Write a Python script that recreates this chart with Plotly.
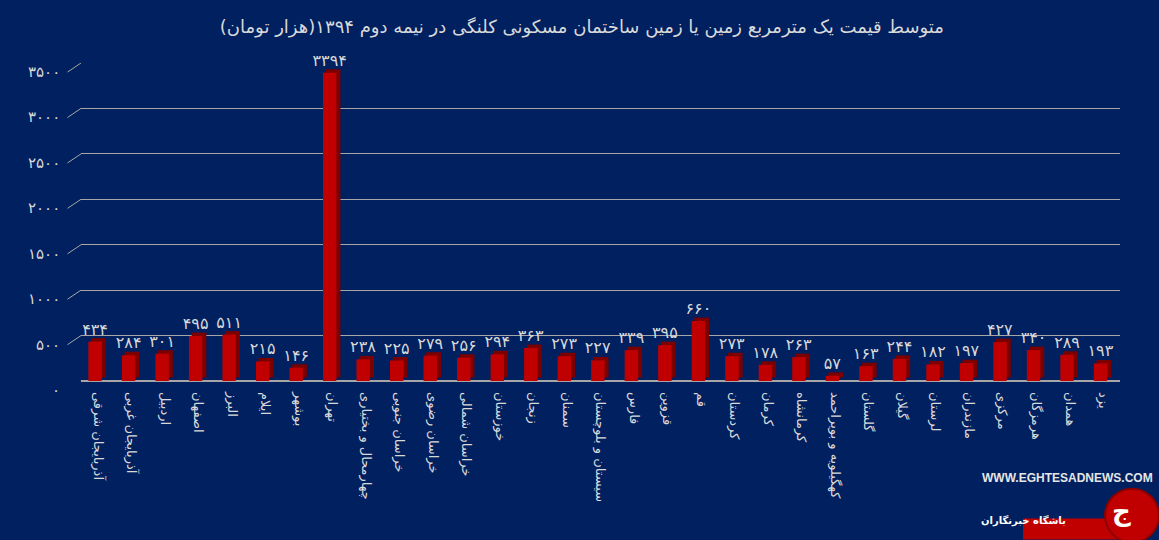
import plotly.graph_objects as go

provinces = ["آذربایجان شرقی", "آذربایجان غربی", "اردبیل", "اصفهان", "البرز", "ایلام", "بوشهر",
             "تهران", "چهارمحال و بختیاری", "خراسان جنوبی", "خراسان رضوی", "خراسان شمالی",
             "خوزستان", "زنجان", "سمنان", "سیستان و بلوچستان", "فارس", "قزوین", "قم",
             "کردستان", "کرمان", "کرمانشاه", "کهگیلویه و بویراحمد", "گلستان", "گیلان",
             "لرستان", "مازندران", "مرکزی", "هرمزگان", "همدان", "یزد"]
prices = [434, 284, 301, 495, 511, 215, 146, 3394, 238, 225, 279, 256, 294, 363, 273, 227,
          339, 395, 660, 273, 178, 263, 57, 163, 244, 182, 197, 427, 340, 289, 193]
y_ticks = [0, 500, 1000, 1500, 2000, 2500, 3000, 3500]

FA = str.maketrans("0123456789", "۰۱۲۳۴۵۶۷۸۹")
def fa(n):
    return str(n).translate(FA)

BG = "#002060"
TXT = "#d9d9d9"
FONT = "DejaVu Sans"
depth = 38  # 3D extrusion in value units (style)

def px(x):
    return (x - 81) / 1039

def py(y):
    return (381 - y) / 319

fig = go.Figure()
# darker extrusion (side/top faces)
fig.add_trace(go.Bar(x=provinces, y=prices, base=[depth] * len(prices), width=0.44, offset=-0.2,
                     marker=dict(color="#7d0000", line=dict(width=0)), hoverinfo="skip",
                     showlegend=False))
# front faces
fig.add_trace(go.Bar(x=provinces, y=prices, width=0.4, offset=-0.28,
                     marker=dict(color="#c00000", line=dict(width=0)),
                     text=[fa(v) for v in prices], textposition="outside", constraintext="none",
                     textfont=dict(color=TXT, size=16, family=FONT), cliponaxis=False,
                     showlegend=False))

shapes = []
for t in y_ticks:
    shapes.append(dict(type="line", xref="paper", yref="y", x0=-0.013, x1=0.0, y0=t - 100, y1=t,
                       line=dict(color="#a6a6a6", width=1)))
shapes.append(dict(type="rect", xref="paper", yref="paper", x0=px(1023), x1=px(1130),
                   y0=py(540), y1=py(519), line=dict(width=0), fillcolor="#c00000"))
shapes.append(dict(type="circle", xref="paper", yref="paper", x0=px(1105), x1=px(1159),
                   y0=py(543), y1=py(489), line=dict(color="#8a0000", width=2),
                   fillcolor="#c00000"))

annotations = [dict(text=fa(t), xref="paper", yref="y", x=0, y=t, xanchor="right",
                    yanchor="middle", xshift=-19, yshift=-9, showarrow=False,
                    font=dict(color=TXT, size=15, family=FONT)) for t in y_ticks]

fig.update_layout(
    width=1159, height=540,
    margin=dict(l=81, r=39, t=63, b=159),
    paper_bgcolor=BG, plot_bgcolor=BG,
    barmode="overlay",
    shapes=shapes,
    annotations=annotations,
    title=dict(text="متوسط قیمت یک مترمربع زمین یا زمین ساختمان مسکونی کلنگی در نیمه دوم ۱۳۹۴(هزار تومان)",
               x=0.502, xref="container", y=0.95, yref="container", xanchor="center", yanchor="middle",
               font=dict(color=TXT, size=18, family=FONT)),
    xaxis=dict(tickangle=90, tickfont=dict(color=TXT, size=13, family=FONT), showgrid=False,
               showline=False, ticks="", ticklabelstandoff=10, range=[-0.5, len(provinces) - 0.5]),
    yaxis=dict(range=[0, 3500], tickvals=y_ticks, showticklabels=False,
               gridcolor="#a6a6a6", gridwidth=1,
               zeroline=True, zerolinecolor="#a6a6a6", ticks=""),
    font=dict(family=FONT, color=TXT),
)

# watermark & logo
fig.add_annotation(text="<b>WWW.EGHTESADNEWS.COM</b>", xref="paper", yref="paper",
                   x=px(1155), y=py(478), xanchor="right", yanchor="middle",
                   showarrow=False, font=dict(color="#e6e6e6", size=12, family="Liberation Sans"))
fig.add_annotation(text="<b>باشگاه خبرنگاران</b>", xref="paper", yref="paper",
                   x=px(1068), y=py(529), showarrow=False,
                   font=dict(color="white", size=10, family=FONT))
fig.add_annotation(text="<b>ج</b>", xref="paper", yref="paper",
                   x=px(1133), y=py(512), yanchor="middle", showarrow=False,
                   font=dict(color="white", size=26, family=FONT))

fig.write_html("out.html")
